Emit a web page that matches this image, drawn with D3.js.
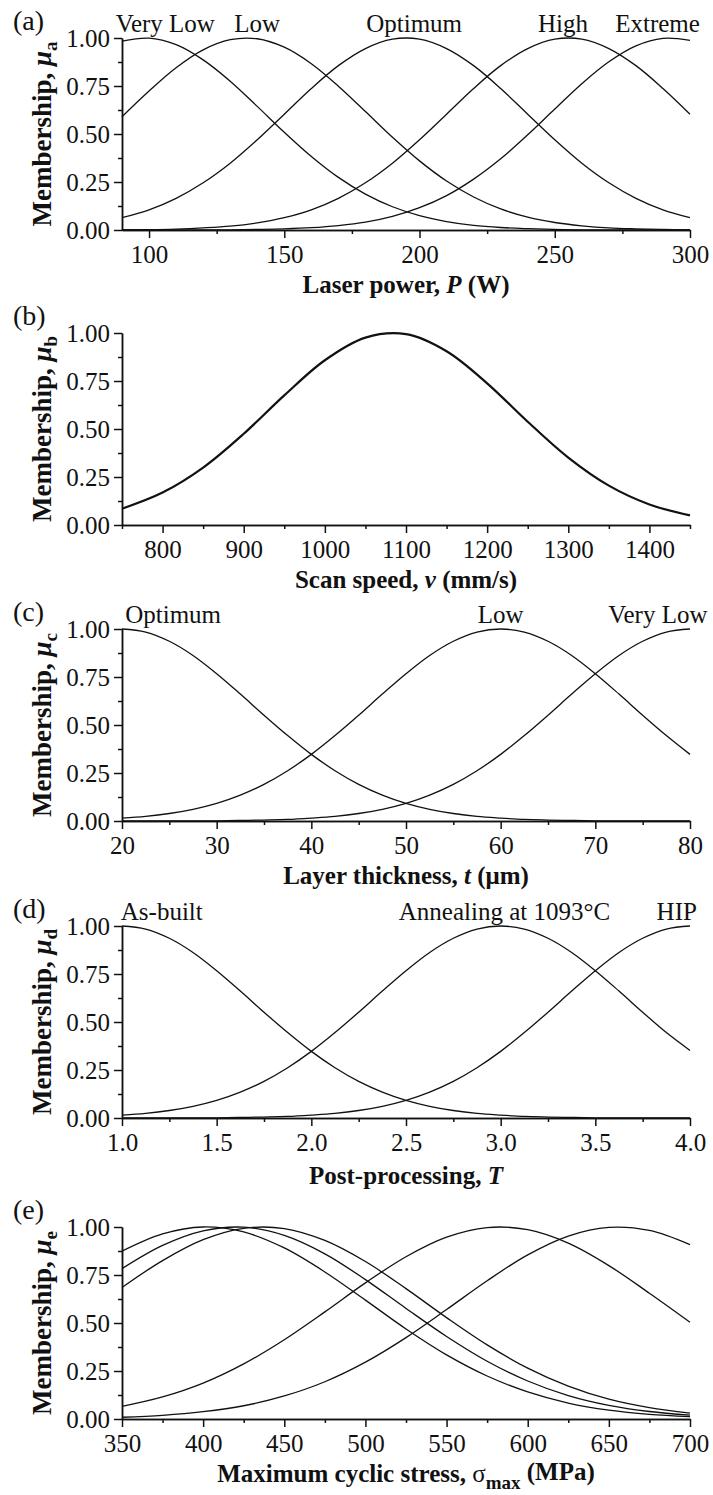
<!DOCTYPE html>
<html>
<head>
<meta charset="utf-8">
<script src="https://cdn.jsdelivr.net/npm/d3@7/dist/d3.min.js"></script>
<style>
  body { margin: 0; background: #fff; }
  svg text { font-family: "Liberation Serif", "Times New Roman", serif; fill: #111; }
</style>
</head>
<body>
<script>
// (a) laser power, W
var powerX = [90, 100, 110, 120, 130, 140, 150, 160, 170, 180, 190, 200, 210, 220, 230, 240, 250, 260, 270, 280, 290, 300];
var powerVeryLow = [0.984, 0.999, 0.965, 0.886, 0.775, 0.644, 0.509, 0.383, 0.274, 0.187, 0.121, 0.075, 0.044, 0.024, 0.013, 0.007, 0.003, 0.001, 0, 0, 0, 0];
var powerLow = [0.590, 0.724, 0.845, 0.938, 0.991, 0.996, 0.952, 0.866, 0.749, 0.617, 0.483, 0.360, 0.255, 0.172, 0.110, 0.067, 0.039, 0.022, 0.011, 0.006, 0.003, 0.001];
var powerOptimum = [0.064, 0.105, 0.165, 0.246, 0.348, 0.470, 0.603, 0.737, 0.856, 0.945, 0.994, 0.994, 0.945, 0.856, 0.737, 0.603, 0.470, 0.348, 0.246, 0.165, 0.105, 0.064];
var powerHigh = [0.001, 0.002, 0.005, 0.011, 0.020, 0.037, 0.064, 0.105, 0.165, 0.246, 0.348, 0.470, 0.603, 0.737, 0.856, 0.945, 0.994, 0.994, 0.945, 0.856, 0.737, 0.603];
var powerExtreme = [0, 0, 0, 0.001, 0.001, 0.003, 0.006, 0.012, 0.023, 0.041, 0.071, 0.116, 0.179, 0.265, 0.371, 0.496, 0.630, 0.762, 0.876, 0.959, 0.998, 0.988];
var powerNames = ["Very Low", "Low", "Optimum", "High", "Extreme"];
var powerNameAt = [106, 140, 198, 253, 288];

// (b) scan speed, mm/s
var speedX = [750, 800, 850, 900, 950, 1000, 1050, 1100, 1150, 1200, 1250, 1300, 1350, 1400, 1450];
var speedMu = [0.085, 0.169, 0.299, 0.475, 0.675, 0.858, 0.976, 0.994, 0.905, 0.738, 0.538, 0.351, 0.205, 0.107, 0.050];

// (c) layer thickness, um
var layerX = [20, 22.5, 25, 27.5, 30, 32.5, 35, 37.5, 40, 42.5, 45, 47.5, 50, 52.5, 55, 57.5, 60, 62.5, 65, 67.5, 70, 72.5, 75, 77.5, 80];
var layerOptimum = [1.000, 0.984, 0.936, 0.862, 0.767, 0.661, 0.551, 0.445, 0.347, 0.262, 0.191, 0.135, 0.092, 0.061, 0.039, 0.024, 0.015, 0.008, 0.005, 0.003, 0.001, 0.001, 0, 0, 0];
var layerLow = [0.015, 0.024, 0.039, 0.061, 0.092, 0.135, 0.191, 0.262, 0.347, 0.445, 0.551, 0.661, 0.767, 0.862, 0.936, 0.984, 1.000, 0.984, 0.936, 0.862, 0.767, 0.661, 0.551, 0.445, 0.347];
var layerVeryLow = [0, 0, 0, 0.001, 0.001, 0.003, 0.005, 0.008, 0.015, 0.024, 0.039, 0.061, 0.092, 0.135, 0.191, 0.262, 0.347, 0.445, 0.551, 0.661, 0.767, 0.862, 0.936, 0.984, 1.000];
var layerNames = ["Optimum", "Low", "Very Low"];
var layerNameAt = [25.4, 60, 76.6];

// (d) post-processing
var postX = [1.0, 1.125, 1.25, 1.375, 1.5, 1.625, 1.75, 1.875, 2.0, 2.125, 2.25, 2.375, 2.5, 2.625, 2.75, 2.875, 3.0, 3.125, 3.25, 3.375, 3.5, 3.625, 3.75, 3.875, 4.0];
var postAsBuilt = [1.000, 0.984, 0.936, 0.862, 0.767, 0.661, 0.551, 0.445, 0.347, 0.262, 0.191, 0.135, 0.092, 0.061, 0.039, 0.024, 0.015, 0.008, 0.005, 0.003, 0.001, 0.001, 0, 0, 0];
var postAnnealing = [0.015, 0.024, 0.039, 0.061, 0.092, 0.135, 0.191, 0.262, 0.347, 0.445, 0.551, 0.661, 0.767, 0.862, 0.936, 0.984, 1.000, 0.984, 0.936, 0.862, 0.767, 0.661, 0.551, 0.445, 0.352];
var postHip = [0, 0, 0, 0.001, 0.001, 0.003, 0.005, 0.008, 0.015, 0.024, 0.039, 0.061, 0.092, 0.135, 0.191, 0.262, 0.347, 0.445, 0.551, 0.661, 0.767, 0.862, 0.936, 0.984, 1.000];
var postNames = ["As-built", "Annealing at 1093°C", "HIP"];
var postNameAt = [1.21, 3.02, 3.93];

// (e) maximum cyclic stress, MPa
var stressX = [350, 375, 400, 425, 450, 475, 500, 525, 550, 575, 600, 625, 650, 675, 700];
var stress1 = [0.874, 0.964, 1.000, 0.974, 0.891, 0.766, 0.619, 0.469, 0.334, 0.224, 0.141, 0.083, 0.046, 0.024, 0.012];
var stress2 = [0.783, 0.904, 0.980, 0.999, 0.956, 0.860, 0.726, 0.576, 0.430, 0.301, 0.198, 0.122, 0.071, 0.039, 0.020];
var stress3 = [0.685, 0.825, 0.934, 0.993, 0.992, 0.930, 0.820, 0.679, 0.528, 0.386, 0.265, 0.171, 0.103, 0.059, 0.031];
var stress4 = [0.066, 0.115, 0.187, 0.287, 0.413, 0.558, 0.709, 0.845, 0.947, 0.997, 0.986, 0.916, 0.799, 0.655, 0.504];
var stress5 = [0.009, 0.019, 0.038, 0.069, 0.120, 0.194, 0.296, 0.424, 0.570, 0.720, 0.855, 0.953, 0.998, 0.982, 0.908];

var yMajor = [0, 0.25, 0.5, 0.75, 1];
var yMinor = [0.125, 0.375, 0.625, 0.875];

var W = 713, H = 1495;
var left = 122, plotW = 568, plotH = 192;

var svg = d3.select("body").append("svg")
  .attr("width", W)
  .attr("height", H);

var panels = [
  { tag: "(a)", top: 38, sub: "a", xs: powerX, series: [powerVeryLow, powerLow, powerOptimum, powerHigh, powerExtreme],
    domain: [90, 300], major: [100, 150, 200, 250, 300], minor: [125, 175, 225, 275], fmt: "d",
    names: powerNames, nameAt: powerNameAt,
    title: [["Laser power, ", "normal"], ["P", "italic"], [" (W)", "normal"]] },
  { tag: "(b)", top: 333, sub: "b", xs: speedX, series: [speedMu], width: 2.2,
    domain: [750, 1450], major: [800, 900, 1000, 1100, 1200, 1300, 1400],
    minor: [750, 850, 950, 1050, 1150, 1250, 1350, 1450], fmt: "d",
    names: [], nameAt: [],
    title: [["Scan speed, ", "normal"], ["ν", "italic"], [" (mm/s)", "normal"]] },
  { tag: "(c)", top: 629, sub: "c", xs: layerX, series: [layerOptimum, layerLow, layerVeryLow],
    domain: [20, 80], major: [20, 30, 40, 50, 60, 70, 80], minor: [25, 35, 45, 55, 65, 75], fmt: "d",
    names: layerNames, nameAt: layerNameAt,
    title: [["Layer thickness, ", "normal"], ["t", "italic"], [" (μm)", "normal"]] },
  { tag: "(d)", top: 926, sub: "d", xs: postX, series: [postAsBuilt, postAnnealing, postHip],
    domain: [1, 4], major: [1, 1.5, 2, 2.5, 3, 3.5, 4], minor: [1.25, 1.75, 2.25, 2.75, 3.25, 3.75], fmt: ".1f",
    names: postNames, nameAt: postNameAt, titleGap: 66,
    title: [["Post-processing, ", "normal"], ["T", "italic"]] },
  { tag: "(e)", top: 1227, sub: "e", xs: stressX, series: [stress1, stress2, stress3, stress4, stress5],
    domain: [350, 700], major: [350, 400, 450, 500, 550, 600, 650, 700], minor: [375, 425, 475, 525, 575, 625, 675], fmt: "d",
    names: [], nameAt: [],
    title: [["Maximum cyclic stress, ", "normal"], ["σ", "plain"], ["max", "sub"], [" (MPa)", "normal"]] }
];

panels.forEach(drawPanel);

function drawPanel(p) {
  var g = svg.append("g").attr("transform", "translate(" + left + "," + p.top + ")");

  var x = d3.scaleLinear().domain(p.domain).range([0, plotW]);
  var y = d3.scaleLinear().domain([0, 1]).range([plotH, 0]);

  // minor ticks first, then major ticks with labels
  var xMinor = g.append("g").attr("transform", "translate(0," + plotH + ")")
    .call(d3.axisBottom(x).tickValues(p.minor).tickSize(4).tickSizeOuter(0).tickFormat(""));
  var yMinorG = g.append("g")
    .call(d3.axisLeft(y).tickValues(yMinor).tickSize(4).tickSizeOuter(0).tickFormat(""));
  var xAxis = g.append("g").attr("transform", "translate(0," + plotH + ")")
    .call(d3.axisBottom(x).tickValues(p.major).tickSize(8).tickSizeOuter(0).tickPadding(7).tickFormat(d3.format(p.fmt)));
  var yAxis = g.append("g")
    .call(d3.axisLeft(y).tickValues(yMajor).tickSize(8).tickSizeOuter(0).tickPadding(4).tickFormat(d3.format(".2f")));

  [xMinor, yMinorG, xAxis, yAxis].forEach(function(a) {
    a.attr("font-family", null).attr("font-size", null);
    a.selectAll("path, line").attr("stroke", "#111").attr("stroke-width", 1.5);
    a.selectAll("text").style("font-size", "25px").attr("fill", "#111");
  });

  var line = d3.line()
    .x(function(d) { return x(d[0]); })
    .y(function(d) { return y(d[1]); })
    .curve(d3.curveCatmullRom.alpha(0.5));

  p.series.forEach(function(vals) {
    var pts = p.xs.map(function(v, i) { return [v, vals[i]]; });
    g.append("path")
      .attr("d", line(pts))
      .attr("fill", "none")
      .attr("stroke", "#111")
      .attr("stroke-width", p.width || 1.3);
  });

  // names above the curves
  p.names.forEach(function(n, i) {
    g.append("text")
      .attr("x", x(p.nameAt[i]))
      .attr("y", -6)
      .attr("text-anchor", "middle")
      .style("font-size", "25px")
      .text(n);
  });

  // panel tag
  svg.append("text")
    .attr("x", 13)
    .attr("y", p.top - 8)
    .style("font-size", "28px")
    .text(p.tag);

  // y title
  var yt = svg.append("text")
    .attr("transform", "translate(51," + (p.top + plotH / 2) + ") rotate(-90)")
    .attr("text-anchor", "middle")
    .style("font-size", "27px")
    .style("font-weight", "bold");
  yt.append("tspan").text("Membership, ");
  yt.append("tspan").style("font-style", "italic").text("μ");
  yt.append("tspan").attr("dy", "0.3em").style("font-size", "19px").text(p.sub);

  // x title
  var xt = svg.append("text")
    .attr("x", left + plotW / 2)
    .attr("y", p.top + plotH + (p.titleGap || 63))
    .attr("text-anchor", "middle")
    .style("font-size", "25px")
    .style("font-weight", "bold");
  p.title.forEach(function(t) {
    var s = xt.append("tspan").text(t[0]);
    if (t[1] == "italic") s.style("font-style", "italic");
    if (t[1] == "plain") s.style("font-weight", "normal");
    if (t[1] == "sub") s.attr("dy", "0.35em").style("font-size", "19px");
    if (t[0] == " (MPa)") s.attr("dy", "-0.35em");
  });
}
</script>
</body>
</html>
